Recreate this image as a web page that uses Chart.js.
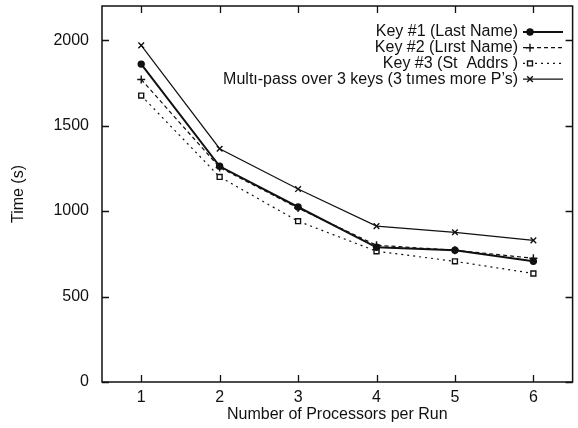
<!DOCTYPE html>
<html>
<head>
<meta charset="utf-8">
<script src="https://cdn.jsdelivr.net/npm/chart.js@4"></script>
<style>
  html, body { margin: 0; padding: 0; background: #fff; }
  #wrap { width: 578px; height: 428px; }
</style>
</head>
<body>
<div id="wrap"><canvas id="chart"></canvas></div>
<script>
// data
const procs = ['1', '2', '3', '4', '5', '6'];
const key1 = [1860, 1262, 1024, 788, 771, 706];
const key2 = [1770, 1255, 1018, 800, 771, 724];
const key3 = [1676, 1200, 941, 765, 706, 635];
const multi = [1970, 1365, 1129, 912, 876, 829];
const yTicks = [0, 500, 1000, 1500, 2000];

const seriesNames = [
  'Key #1 (Last Name)',
  'Key #2 (L\u0131rst Name)',
  'Key #3 (St  Addrs )',
  'Mult\u0131-pass over 3 keys (3 t\u0131mes more P\u2019s)'
];

const FONT = '"Liberation Sans", Arial, sans-serif';

function makeSet(label, data, style, dash, width, bg, radius) {
  return {
    label: label,
    data: data,
    borderColor: '#111',
    backgroundColor: bg,
    borderWidth: width,
    borderDash: dash,
    pointStyle: style,
    pointRadius: radius,
    pointBorderColor: '#111',
    pointBackgroundColor: bg,
    pointBorderWidth: 1.4,
    tension: 0
  };
}

// inward ticks on all four sides plus the frame
const frame = {
  id: 'frame',
  afterDraw(chart) {
    const ctx = chart.ctx;
    const a = chart.chartArea;
    const x = chart.scales.x, y = chart.scales.y;
    ctx.save();
    ctx.strokeStyle = '#111';
    ctx.lineWidth = 1.5;
    ctx.strokeRect(a.left, a.top, a.right - a.left, a.bottom - a.top);
    ctx.lineWidth = 1.3;
    ctx.beginPath();
    for (const v of yTicks) {
      const py = Math.round(y.getPixelForValue(v)) + 0.5;
      ctx.moveTo(a.left, py); ctx.lineTo(a.left + 7, py);
      ctx.moveTo(a.right, py); ctx.lineTo(a.right - 7, py);
    }
    for (let i = 0; i < procs.length; i++) {
      const px = Math.round(x.getPixelForValue(i)) + 0.5;
      ctx.moveTo(px, a.bottom); ctx.lineTo(px, a.bottom - 7);
      ctx.moveTo(px, a.top); ctx.lineTo(px, a.top + 7);
    }
    ctx.stroke();
    ctx.restore();
  }
};

// gnuplot-style key: text right aligned, sample line to its right
const key = {
  id: 'key',
  afterDraw(chart) {
    const ctx = chart.ctx;
    const textRight = 518, lineL = 523, lineR = 563, top = 32, step = 15.7, mx = 530;
    ctx.save();
    ctx.font = '16px ' + FONT;
    ctx.textAlign = 'right';
    ctx.textBaseline = 'middle';
    chart.data.datasets.forEach((ds, i) => {
      const yy = top + i * step;
      ctx.fillStyle = '#111';
      ctx.fillText(ds.label, textRight, yy);
      ctx.strokeStyle = '#111';
      ctx.lineWidth = ds.borderWidth;
      ctx.setLineDash(ds.borderDash || []);
      ctx.beginPath();
      ctx.moveTo(lineL, yy); ctx.lineTo(lineR, yy);
      ctx.stroke();
      ctx.setLineDash([]);
      ctx.lineWidth = 1.4;
      ctx.fillStyle = ds.pointBackgroundColor;
      Chart.helpers.drawPoint(ctx, {
        pointStyle: ds.pointStyle, radius: ds.pointRadius, rotation: 0,
        borderWidth: 1.4
      }, mx, yy);
    });
    ctx.restore();
  }
};

Chart.defaults.font.family = FONT;
Chart.defaults.font.size = 16;
Chart.defaults.color = '#111';

const graf = new Chart(document.getElementById('chart'), {
  type: 'line',
  data: {
    labels: procs,
    datasets: [
      makeSet(seriesNames[0], key1, 'circle', [], 2, '#111', 3),
      makeSet(seriesNames[1], key2, 'cross', [4, 3], 1.2, '#111', 4),
      makeSet(seriesNames[2], key3, 'rect', [2, 4], 1.2, '#fff', 3.5),
      makeSet(seriesNames[3], multi, 'crossRot', [], 1.2, '#111', 4)
    ]
  },
  plugins: [frame, key],
  options: {
    responsive: true,
    maintainAspectRatio: false,
    animation: false,
    layout: { padding: { top: 6, right: 1, left: 0, bottom: 0 } },
    plugins: {
      legend: { display: false },
      tooltip: { enabled: false }
    },
    scales: {
      x: {
        type: 'category',
        offset: true,
        grid: { display: false, drawTicks: false },
        border: { display: false },
        ticks: { padding: 6, maxRotation: 0 },
        title: { display: true, text: 'Number of Processors per Run', padding: { top: 0, bottom: 4 } },
        afterFit(s) { s.height = 46; s.paddingLeft = 0; s.paddingRight = 0; }
      },
      y: {
        min: 0,
        max: 2200,
        afterBuildTicks(s) { s.ticks = yTicks.map(v => ({ value: v })); },
        grid: { display: false, drawTicks: false },
        border: { display: false },
        ticks: { padding: 13, callback: v => String(v) },
        title: { display: true, text: 'Time (s)', padding: { top: 9, bottom: 0 } },
        afterFit(s) { s.width = 102; s.paddingTop = 0; s.paddingBottom = 0; }
      }
    }
  }
});
</script>
</body>
</html>
